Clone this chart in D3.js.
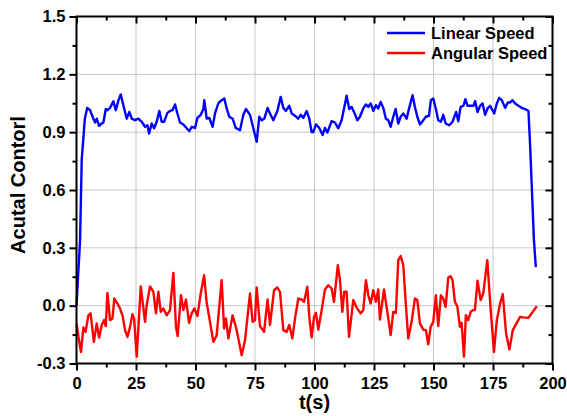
<html>
<head>
 <meta charset="UTF-8">
 <title>Acutal Contorl</title>
 <script type="text/javascript" src="https://cdn.jsdelivr.net/npm/d3@7"></script>
 <style>
body {
  margin: 0;
  background: #fff;
}
svg {
  font-family: "Liberation Sans", Arial, sans-serif;
  font-weight: bold;
}
.grid line {
  stroke: #c8c8c8;
  stroke-width: 1px;
}
.axis path {
  display: none;
}
.axis line {
  stroke: #000;
  stroke-width: 2px;
}
.axis text {
  font-size: 16.5px;
  font-weight: bold;
  fill: #000;
}
.curve {
  fill: none;
  stroke-width: 2.4px;
  stroke-linejoin: round;
}
 </style>
</head>

<body>
 <svg id="chart"></svg>
</body>

<script type="text/javascript">
var linearSpeed = [
  [0, 0], [1.5, 0.34], [2.2, 0.76], [2.9, 0.87], [3.5, 0.97], [4.5, 1.026], [5.7, 1.014],
  [7.1, 0.97], [7.8, 0.95], [8.5, 0.97], [9.5, 0.933], [10.6, 0.945], [11.3, 0.95],
  [12.3, 1.02], [13.0, 1.014], [14.1, 1.026], [15.5, 1.06], [16.5, 1.014], [17.6, 1.065],
  [18.6, 1.095], [19.7, 1.04], [21.1, 0.97], [22.2, 1.005], [23.2, 0.97], [24.6, 0.962],
  [26.0, 0.97], [27.4, 0.954], [28.8, 0.928], [29.8, 0.936], [30.5, 0.893], [31.6, 0.945],
  [32.6, 0.92], [33.7, 0.954], [34.8, 1.01], [35.8, 0.954], [36.8, 0.954], [38.2, 1.0],
  [39.3, 1.01], [40.3, 1.014], [41.4, 1.044], [42.4, 0.997], [43.5, 0.95], [44.9, 0.94],
  [46.3, 0.92], [47.4, 0.905], [48.4, 0.928], [49.8, 0.922], [50.8, 0.974], [52.2, 0.99],
  [53.3, 1.02], [53.7, 1.066], [54.7, 0.97], [55.8, 0.974], [57.2, 0.928], [58.2, 0.997],
  [59.6, 1.05], [61.0, 1.066], [62.1, 1.075], [63.1, 1.023], [64.2, 0.98], [65.6, 0.97],
  [66.9, 0.922], [68.7, 0.91], [70.1, 0.99], [71.2, 1.02], [72.9, 0.99], [74.3, 0.92],
  [75.7, 0.85], [76.8, 0.98], [77.8, 0.962], [78.9, 0.97], [80.3, 1.026], [81.3, 0.997],
  [82.7, 0.962], [84.4, 1.01], [85.8, 1.083], [86.9, 1.026], [88.0, 1.01], [89.4, 1.037],
  [90.4, 0.997], [91.8, 0.985], [93.2, 0.97], [94.2, 0.99], [95.3, 0.974], [96.7, 1.01],
  [97.8, 0.97], [98.8, 0.90], [99.5, 0.90], [100.6, 0.94], [102.0, 0.922], [103.4, 0.885],
  [104.4, 0.922], [105.4, 0.898], [107.2, 0.957], [108.6, 0.95], [110.0, 0.92], [111.4, 0.962],
  [113.5, 1.089], [114.6, 1.02], [115.6, 1.031], [116.6, 1.005], [118.0, 0.962], [119.1, 0.98],
  [120.5, 1.023], [121.6, 1.044], [122.6, 1.031], [123.6, 1.049], [124.7, 1.01], [125.8, 1.04],
  [126.8, 1.023], [127.8, 1.057], [128.9, 1.026], [130.0, 0.97], [131.0, 0.962], [132.0, 0.928],
  [133.1, 0.98], [134.1, 1.02], [135.2, 0.945], [136.2, 0.98], [137.3, 0.997], [138.7, 0.97],
  [139.8, 1.026], [141.2, 1.092], [142.2, 1.031], [143.2, 0.98], [144.3, 0.94], [145.7, 0.962],
  [146.8, 0.98], [148.1, 0.985], [148.9, 1.066], [149.9, 1.075], [151.0, 1.02], [152.0, 0.962],
  [153.1, 0.954], [154.1, 0.99], [155.1, 0.945], [156.6, 0.936], [158.0, 0.954], [159.5, 1.005],
  [160.4, 0.957], [161.4, 1.031], [162.6, 1.037], [163.4, 1.071], [164.3, 1.037], [165.4, 1.037],
  [166.8, 1.037], [167.5, 1.061], [168.5, 1.005], [169.6, 1.037], [170.6, 1.049], [171.7, 0.99],
  [172.7, 1.023], [173.8, 1.037], [175.5, 0.997], [176.6, 1.049], [177.6, 1.078], [178.7, 1.066],
  [180.1, 1.026], [181.2, 1.054], [182.2, 1.054], [183.2, 1.066], [184.3, 1.049], [185.7, 1.037],
  [187.1, 1.026], [188.5, 1.02], [189.9, 1.01], [190.6, 0.83], [192.2, 0.34], [193.0, 0.2]
];
var angularSpeed = [
  [0, -0.092], [0.8, -0.16], [1.9, -0.24], [2.9, -0.113], [3.8, -0.136], [5.0, -0.05],
  [5.9, -0.04], [7.3, -0.188], [8.5, -0.092], [9.5, -0.165], [10.6, -0.10], [11.6, -0.075],
  [12.3, -0.106], [13.0, 0.066], [14.1, -0.075], [15.1, -0.067], [15.9, 0.037], [17.2, 0.011],
  [18.3, -0.015], [19.4, -0.054], [20.4, -0.127], [21.4, -0.162], [22.5, -0.11], [23.5, -0.044],
  [24.2, -0.067], [25.3, -0.265], [27.0, 0.10], [28.8, -0.084], [29.5, 0.003], [30.9, 0.10],
  [32.3, 0.072], [33.4, -0.04], [34.4, 0.072], [35.4, -0.032], [36.5, -0.015], [37.9, -0.05],
  [39.3, -0.023], [40.7, 0.17], [41.8, -0.11], [42.5, -0.158], [43.9, 0.054], [44.9, -0.023],
  [46.0, 0.032], [47.3, -0.089], [48.4, -0.04], [49.5, -0.015], [50.8, -0.054], [52.2, 0.063],
  [53.6, 0.158], [54.7, 0.015], [56.1, -0.084], [57.5, -0.188], [58.9, -0.153], [61.0, 0.132],
  [62.0, -0.118], [62.8, -0.067], [63.8, -0.17], [65.6, -0.05], [67.3, -0.127], [69.4, -0.257],
  [70.8, -0.18], [72.9, 0.063], [74.0, -0.084], [75.0, -0.075], [75.7, 0.094], [77.1, -0.106],
  [78.8, -0.136], [80.3, 0.032], [81.3, -0.10], [83.0, 0.08], [84.4, 0.094], [85.5, 0.072],
  [86.9, -0.127], [88.3, -0.136], [89.4, -0.10], [90.7, -0.17], [91.8, -0.067], [93.2, 0.037],
  [94.6, 0.032], [95.6, 0.02], [97.0, 0.098], [97.8, -0.058], [98.8, -0.165], [99.8, -0.058],
  [100.6, -0.037], [101.6, -0.124], [103.0, -0.023], [104.4, 0.084], [105.8, 0.106], [107.2, 0.089],
  [108.2, 0.02], [109.8, 0.21], [110.7, 0.132], [111.7, -0.032], [112.5, 0.072], [113.5, 0.072],
  [114.5, -0.162], [116.3, 0.029], [117.7, -0.01], [119.4, -0.04], [120.5, -0.023], [121.6, 0.132],
  [122.6, 0.054], [123.6, 0.011], [124.7, 0.08], [125.8, 0.02], [126.8, 0.084], [127.5, -0.072],
  [129.2, 0.084], [130.6, -0.032], [132.0, -0.153], [133.1, -0.032], [134.2, -0.037], [135.2, 0.236],
  [136.2, 0.257], [137.3, 0.21], [138.4, 0.003], [139.4, -0.17], [140.8, -0.084], [142.2, 0.037],
  [143.2, 0.029], [144.3, -0.092], [145.7, -0.124], [146.8, -0.127], [147.8, -0.20], [148.8, -0.11],
  [149.9, -0.084], [151.0, 0.054], [152.0, -0.106], [153.1, 0.054], [154.1, 0.037], [155.1, -0.006],
  [156.2, 0.146], [157.2, 0.153], [158.0, 0.132], [159.0, 0.02], [160.0, -0.003], [161.1, -0.11],
  [161.8, -0.089], [162.8, -0.265], [163.6, -0.05], [164.6, -0.075], [165.6, -0.032], [166.7, -0.023],
  [167.4, -0.023], [168.5, 0.129], [169.8, 0.029], [170.9, 0.063], [172.6, 0.236], [174.0, -0.015],
  [175.4, -0.24], [176.6, -0.075], [178.0, 0.011], [179.1, 0.06], [180.5, -0.144], [181.9, -0.227],
  [183.3, -0.127], [185.0, -0.089], [186.4, -0.058], [187.8, -0.061], [189.9, -0.063], [191.7, -0.032],
  [193.4, -0.003]
];
var xTicks = [0, 25, 50, 75, 100, 125, 150, 175, 200];
var xMinor = [12.5, 37.5, 62.5, 87.5, 112.5, 137.5, 162.5, 187.5];
var yTicks = [-0.3, 0, 0.3, 0.6, 0.9, 1.2, 1.5];
var yTickLabels = ["-0.3", "0.0", "0.3", "0.6", "0.9", "1.2", "1.5"];
var yMinor = [-0.15, 0.15, 0.45, 0.75, 1.05, 1.35];
var seriesNames = ["Linear Speed", "Angular Speed"];
var seriesColors = ["#0000ff", "#ff0000"];

(function(){
  var width = 567,
    height = 416,
    plotL = 76.5, plotR = 552.5, plotT = 16.5, plotB = 363.5,
    svg = d3.select("#chart")
      .attr("width", width)
      .attr("height", height),
    xscale = d3.scaleLinear().domain([0, 200]).range([plotL, plotR]),
    yscale = d3.scaleLinear().domain([-0.3, 1.5]).range([plotB, plotT]);

  // grid
  svg.append("g").attr("class", "grid")
    .selectAll("line").data(xTicks.slice(1, -1)).enter().append("line")
    .attr("x1", xscale).attr("x2", xscale)
    .attr("y1", plotT).attr("y2", plotB);
  svg.append("g").attr("class", "grid")
    .selectAll("line").data(yTicks.slice(1, -1)).enter().append("line")
    .attr("y1", yscale).attr("y2", yscale)
    .attr("x1", plotL).attr("x2", plotR);

  // curves
  var line = d3.line()
    .x(function(d){ return xscale(d[0]); })
    .y(function(d){ return yscale(d[1]); });
  [linearSpeed, angularSpeed].forEach(function(data, i){
    svg.append("path")
      .attr("class", "curve")
      .attr("stroke", seriesColors[i])
      .attr("d", line(data));
  });

  // axes: bottom/left outward, top/right inward, with minor ticks
  function addAxis(axis, transform){
    svg.append("g").attr("class", "axis").attr("transform", transform).call(axis);
  }
  addAxis(d3.axisBottom(xscale).tickValues(xTicks).tickSize(7).tickPadding(7).tickFormat(d3.format("d")), "translate(0," + plotB + ")");
  addAxis(d3.axisBottom(xscale).tickValues(xMinor).tickSize(4).tickFormat(""), "translate(0," + plotB + ")");
  addAxis(d3.axisBottom(xscale).tickValues(xTicks).tickSize(7).tickFormat(""), "translate(0," + plotT + ")");
  addAxis(d3.axisBottom(xscale).tickValues(xMinor).tickSize(4).tickFormat(""), "translate(0," + plotT + ")");
  addAxis(d3.axisLeft(yscale).tickValues(yTicks).tickSize(7).tickPadding(4)
    .tickFormat(function(d, i){ return yTickLabels[i]; }), "translate(" + plotL + ",0)");
  addAxis(d3.axisLeft(yscale).tickValues(yMinor).tickSize(4).tickFormat(""), "translate(" + plotL + ",0)");
  addAxis(d3.axisLeft(yscale).tickValues(yTicks).tickSize(7).tickFormat(""), "translate(" + plotR + ",0)");
  addAxis(d3.axisLeft(yscale).tickValues(yMinor).tickSize(4).tickFormat(""), "translate(" + plotR + ",0)");

  svg.append("rect")
    .attr("x", plotL).attr("y", plotT)
    .attr("width", plotR - plotL).attr("height", plotB - plotT)
    .attr("fill", "none").attr("stroke", "#000").attr("stroke-width", 2);

  // titles
  svg.append("text")
    .attr("x", (plotL + plotR) / 2).attr("y", 409)
    .attr("text-anchor", "middle")
    .style("font-size", "20px")
    .text("t(s)");
  svg.append("text")
    .attr("transform", "translate(25," + ((plotT + plotB) / 2 - 5) + ") rotate(-90)")
    .attr("text-anchor", "middle")
    .style("font-size", "20px")
    .text("Acutal Contorl");

  // legend
  var legend = svg.append("g").attr("transform", "translate(387,33)");
  seriesNames.forEach(function(name, i){
    legend.append("line")
      .attr("x1", 0).attr("x2", 38)
      .attr("y1", i * 20).attr("y2", i * 20)
      .attr("stroke", seriesColors[i]).attr("stroke-width", 2.4);
    legend.append("text")
      .attr("x", 44).attr("y", i * 20 + 6)
      .style("font-size", "16.5px")
      .text(name);
  });
})();
</script>
</html>
